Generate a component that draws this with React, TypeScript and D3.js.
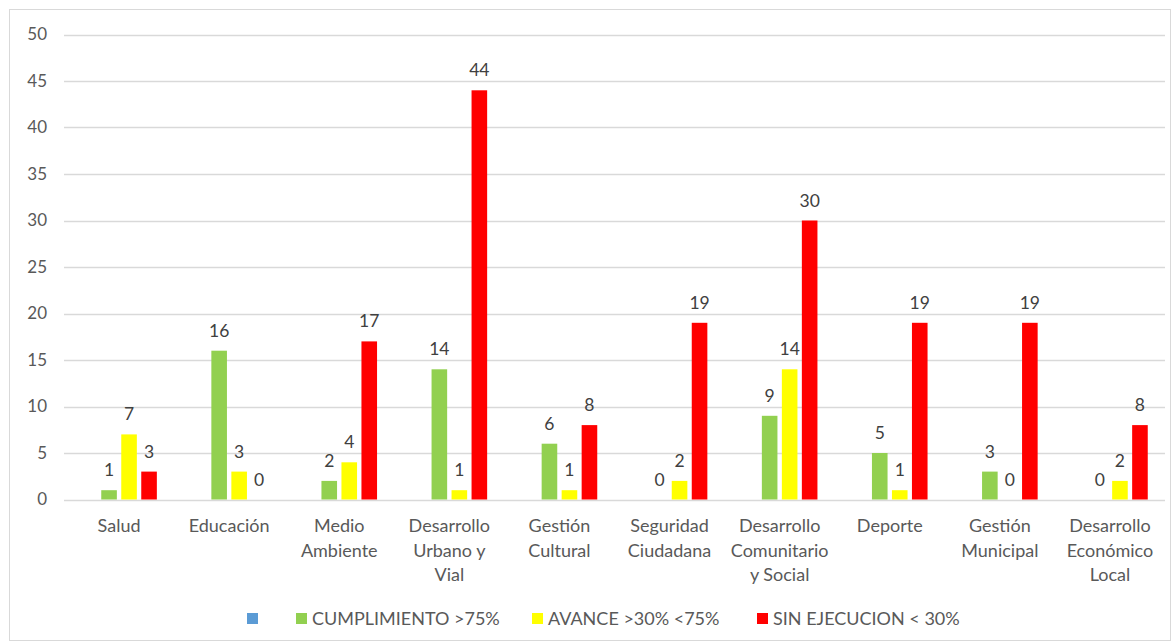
import React from "react";
import * as d3 from "d3";

const categories: string[][] = [
  ["Salud"],
  ["Educación"],
  ["Medio", "Ambiente"],
  ["Desarrollo", "Urbano y", "Vial"],
  ["Gestión", "Cultural"],
  ["Seguridad", "Ciudadana"],
  ["Desarrollo", "Comunitario", "y Social"],
  ["Deporte"],
  ["Gestión", "Municipal"],
  ["Desarrollo", "Económico", "Local"],
];
const seriesNames = ["", "CUMPLIMIENTO >75%", "AVANCE >30% <75%", "SIN EJECUCION < 30%"];
const seriesColors = ["#5B9BD5", "#92D050", "#FFFF00", "#FF0000"];
const blankValues: (number | null)[] = [null, null, null, null, null, null, null, null, null, null];
const cumplimiento: (number | null)[] = [1, 16, 2, 14, 6, 0, 9, 5, 3, 0];
const avance: (number | null)[] = [7, 3, 4, 1, 1, 2, 14, 1, 0, 2];
const sinEjecucion: (number | null)[] = [3, 0, 17, 44, 8, 19, 30, 19, 19, 8];
const yTicks = [0, 5, 10, 15, 20, 25, 30, 35, 40, 45, 50];

const W = 1172;
const H = 642;
const FONT = "Lato, 'Open Sans', sans-serif";

export default function App() {
  const seriesValues = [blankValues, cumplimiento, avance, sinEjecucion];
  const left = 64, right = 1165, top = 34.5, bottom = 499.5;
  const x = d3.scaleBand<number>().domain(d3.range(categories.length)).range([left, right]).padding(0);
  const y = d3.scaleLinear().domain([0, 50]).range([bottom, top]);
  const groupW = 80;
  const inner = d3.scaleBand<number>().domain(d3.range(4)).range([0, groupW]).paddingInner(0.22).paddingOuter(0.11);

  const legendItems = [
    { sq: 247, tx: 0 },
    { sq: 296, tx: 312 },
    { sq: 532, tx: 548 },
    { sq: 757, tx: 773 },
  ];

  return (
    <svg width={W} height={H} style={{ position: "absolute", left: 0, top: 0, background: "#fff" }} fontFamily={FONT}>
      <rect x={9.5} y={9.5} width={1161} height={631} fill="#fff" stroke="#D9D9D9" strokeWidth={1} />
      {yTicks.map((t) => (
        <g key={t}>
          <line x1={left} x2={right} y1={Math.round(y(t)) + 0.5} y2={Math.round(y(t)) + 0.5} stroke="#D9D9D9" strokeWidth={1.3} />
          <text x={47} y={y(t)} dy="0.35em" textAnchor="end" fontSize={17} fill="#595959">{t}</text>
        </g>
      ))}
      {categories.map((cat, i) => {
        const gx = (x(i) as number) + x.bandwidth() / 2 - groupW / 2;
        return (
          <g key={i}>
            {seriesValues.map((vals, s) => {
              const v = vals[i];
              if (v === null) return null;
              const bx = gx + (inner(s) as number);
              const bw = inner.bandwidth();
              return (
                <g key={s}>
                  {v > 0 && <rect x={bx} y={y(v)} width={bw} height={y(0) - y(v)} fill={seriesColors[s]} />}
                  <text x={bx + bw / 2} y={y(v) - 14} textAnchor="middle" fontSize={17.5} fill="#404040">{v}</text>
                </g>
              );
            })}
            {cat.map((line, k) => (
              <text key={k} x={(x(i) as number) + x.bandwidth() / 2} y={532 + k * 24.5} textAnchor="middle" fontSize={18} fill="#595959">{line}</text>
            ))}
          </g>
        );
      })}
      {seriesNames.map((name, s) => (
        <g key={s}>
          <rect x={legendItems[s].sq} y={613} width={11} height={11} fill={seriesColors[s]} />
          {name && <text x={legendItems[s].tx} y={619} dy="0.35em" fontSize={18} fill="#595959">{name}</text>}
        </g>
      ))}
    </svg>
  );
}
